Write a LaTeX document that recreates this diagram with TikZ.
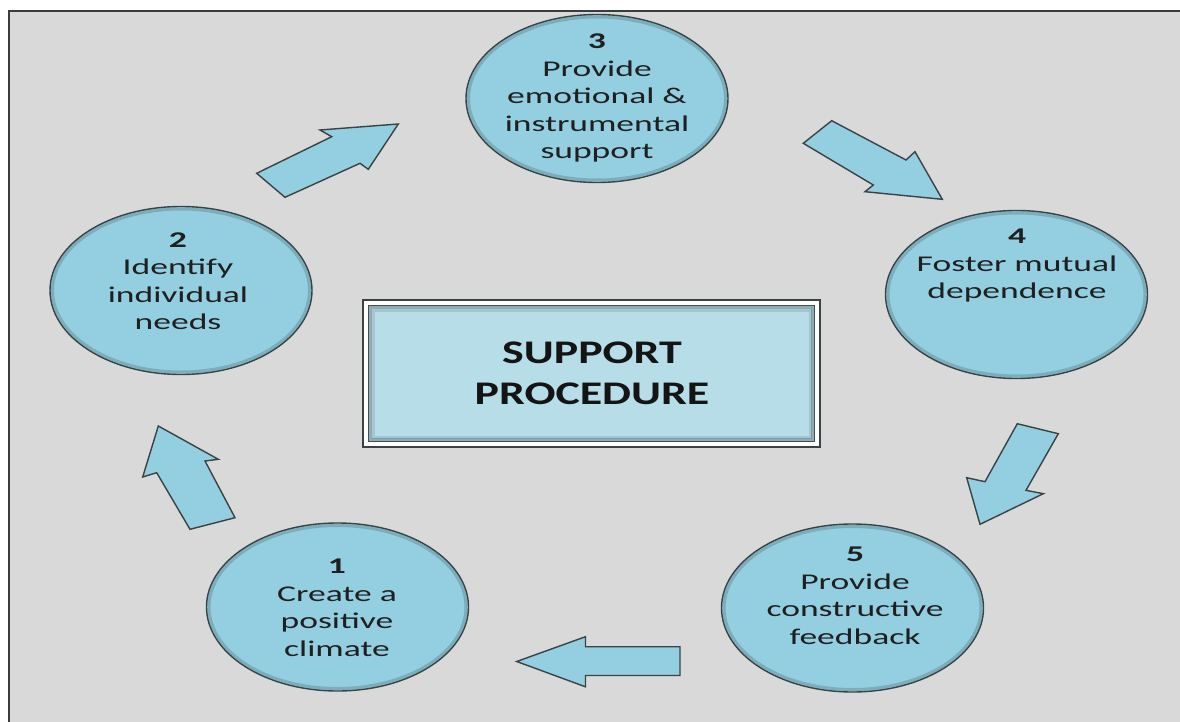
\documentclass[tikz,border=0pt]{standalone}
\usepackage{fontspec}
\usetikzlibrary{shapes.geometric}
\newfontfamily\stagefont[FakeStretch=1.58]{Carlito}
\newfontfamily\titlefont[FakeStretch=1.39]{Carlito}

\definecolor{paper}{HTML}{D9D9D9}
\definecolor{aqua}{HTML}{93CFE0}
\definecolor{paleaqua}{HTML}{B7DDE8}
\definecolor{edge}{HTML}{3A4246}
\definecolor{framegray}{HTML}{3C3C3C}

\begin{document}
\begin{tikzpicture}[x=1pt,y=-1pt,
  stage/.style={ellipse, draw=edge, line width=1.4pt, fill=aqua, inner sep=0pt,
    minimum width=262pt, minimum height=168pt},
  glow/.style={draw=black, opacity=0.16, line width=3pt},
  stagetext/.style={align=center, text=black!88, inner sep=0pt,
    font=\stagefont\fontsize{22.5}{27.5}\selectfont},
  barrow/.style={draw=edge, line width=1.4pt, fill=aqua, line join=miter},
  panel/.style={draw=black!70, line width=1.8pt, fill=paleaqua, inner sep=0pt,
    minimum width=446pt, minimum height=136pt},
  titletext/.style={align=center, text=black!92, inner sep=0pt,
    font=\titlefont\bfseries\fontsize{33}{41}\selectfont}]

\useasboundingbox (0,0) rectangle (1180,722);
\clip (0,0) rectangle (1180,722);
\fill[white] (0,0) rectangle (1180,722);
% outer frame, running past the right and bottom edges of the page
\draw[fill=paper, draw=framegray, line width=2.2pt] (8.7,11) rectangle (1186,728);

% the five stages
\node[stage] (s1) at (337.5,607) {};
\node[stage] (s2) at (181,290.5) {};
\node[stage] (s3) at (597,98.5) {};
\node[stage] (s4) at (1016.5,294.5) {};
\node[stage] (s5) at (852.5,608) {};
\foreach \s in {s1,s2,s3,s4,s5}
  \draw[glow] (\s.center) ellipse [x radius=128.5pt, y radius=81.5pt];

\node[stagetext] (t1) at (337,608) {\textbf{1}\\Create a\\positive\\climate};
\node[stagetext] (t2) at (178,281) {\textbf{2}\\Identify\\individual\\needs};
\node[stagetext] (t3) at (597,98) {\textbf{3}\\Provide\\emotional \&\\instrumental\\support};
\node[stagetext] (t4) at (1017,266) {\textbf{4}\\Foster mutual\\dependence};
\node[stagetext] (t5) at (855,596) {\textbf{5}\\Provide\\constructive\\feedback};

% block arrows between the stages
\draw[barrow] (256.7,173.3) -- (331.7,136.7) -- (320,130) -- (398.3,124)
  -- (368.3,169.3) -- (360,163.3) -- (285,197.3) -- cycle;
\draw[barrow] (831.7,120.7) -- (906,160) -- (915,151.7) -- (942.3,199.3)
  -- (865,191.7) -- (873.3,185) -- (803.3,143.3) -- cycle;
\draw[barrow] (1017.3,423.7) -- (1058.3,433.7) -- (1026,490.3) -- (1043.3,493.7)
  -- (980,524.3) -- (966.7,477.7) -- (985,481.7) -- cycle;
\draw[barrow] (516.7,661.5) -- (585.5,636.7) -- (585.5,646.7) -- (680,646.7)
  -- (680,675.5) -- (585.5,675.5) -- (585.5,686.8) -- cycle;
\draw[barrow] (190,529.3) -- (156.7,472.7) -- (142.7,477) -- (158.3,426)
  -- (218.3,459.3) -- (205,461) -- (235,517.7) -- cycle;

% central title panel with a double border
\node[draw=edge, line width=1.3pt, fill=white, inner sep=0pt,
  minimum width=457pt, minimum height=147pt] (frame) at (591.5,373.5) {};
\node[panel] (panel) at (591.5,373.5) {};
\draw[black, opacity=0.22, line width=3pt]
  ([shift={(2.6pt,-2.6pt)}]panel.north west) rectangle ([shift={(-2.6pt,2.6pt)}]panel.south east);
\draw[black, opacity=0.10, line width=3pt]
  ([shift={(5.4pt,-5.4pt)}]panel.north west) rectangle ([shift={(-5.4pt,5.4pt)}]panel.south east);
\node[titletext] (title) at (592,373.5) {SUPPORT\\PROCEDURE};
\end{tikzpicture}
\end{document}
